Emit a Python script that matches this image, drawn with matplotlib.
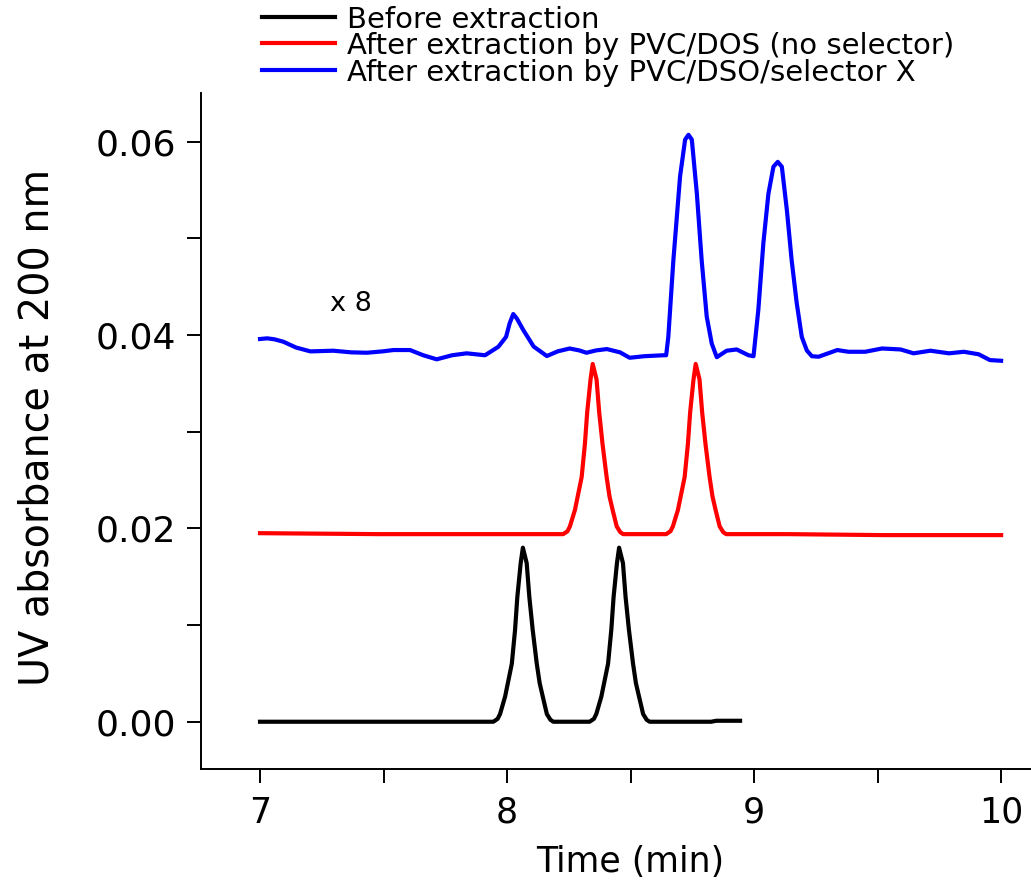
import matplotlib
matplotlib.use("Agg")
import matplotlib.pyplot as plt
from matplotlib.lines import Line2D

plt.rcParams["font.family"] = ["DejaVu Sans"]

# Before extraction (black)
before_x = [7.000, 7.068, 7.8745, 7.9445, 7.9619, 7.9717, 7.9921, 8.0193, 8.0324, 8.0416, 8.0552, 8.0640,
            8.0795, 8.0902, 8.1038, 8.1203, 8.1320, 8.1446, 8.1611, 8.1757, 8.1874, 8.2632,
            8.3341, 8.3516, 8.3613, 8.3817, 8.4089, 8.4220, 8.4313, 8.4449, 8.4536,
            8.4692, 8.4798, 8.4934, 8.5100, 8.5216, 8.5343, 8.5508, 8.5653, 8.5770, 8.8267, 8.8462, 8.9433]
before_y = [0.0000, 0.0000, 0.0000, 0.0000, 0.0003, 0.0008, 0.0026, 0.0060, 0.0095, 0.0129, 0.0164, 0.0180,
            0.0164, 0.0129, 0.0095, 0.0060, 0.0040, 0.0026, 0.0008, 0.0002, 0.0000, 0.0000,
            0.0000, 0.0003, 0.0008, 0.0026, 0.0060, 0.0095, 0.0129, 0.0164, 0.0180,
            0.0164, 0.0129, 0.0095, 0.0060, 0.0040, 0.0026, 0.0008, 0.0002, 0.0000, 0.0000, 0.0001, 0.0001]

# After extraction by PVC/DOS (red)
dos_x = [7.000, 7.4858, 7.9717, 8.2272, 8.2447, 8.2544, 8.2748, 8.3020, 8.3151, 8.3244, 8.3380, 8.3467,
         8.3623, 8.3730, 8.3866, 8.4031, 8.4147, 8.4274, 8.4439, 8.4585, 8.4701,
         8.5547, 8.6441, 8.6615, 8.6713, 8.6917, 8.7189, 8.7320, 8.7412, 8.7548, 8.7636,
         8.7791, 8.7898, 8.8034, 8.8199, 8.8316, 8.8442, 8.8607, 8.8753, 8.8870, 9.1377, 9.5263, 10.000]
dos_y = [0.0195, 0.0194, 0.0194, 0.0194, 0.0197, 0.0202, 0.0219, 0.0253, 0.0287, 0.0320, 0.0354, 0.0370,
         0.0354, 0.0320, 0.0287, 0.0253, 0.0233, 0.0219, 0.0202, 0.0196, 0.0194,
         0.0194, 0.0194, 0.0197, 0.0202, 0.0219, 0.0253, 0.0287, 0.0320, 0.0354, 0.0370,
         0.0354, 0.0320, 0.0287, 0.0253, 0.0233, 0.0219, 0.0202, 0.0196, 0.0194, 0.0194, 0.0193, 0.0193]

# After extraction by PVC/DSO/selector X (blue, x 8)
sel_x = [7.000, 7.0291, 7.0583, 7.0943, 7.1457, 7.2040, 7.2964, 7.3692, 7.4324, 7.4955, 7.5402, 7.6073,
         7.6607, 7.7152, 7.7773, 7.8366, 7.9109, 7.9649, 7.9960, 8.0105, 8.0251, 8.0397, 8.0659, 8.1077,
         8.1611, 8.2049, 8.2534, 8.2923, 8.3215, 8.3603, 8.4040, 8.4575, 8.4964, 8.5547, 8.6324, 8.6441,
         8.6528, 8.6732, 8.7004, 8.7208, 8.7344, 8.7480, 8.7684, 8.7879, 8.8083, 8.8287, 8.8491, 8.8889,
         8.9297, 8.9773, 8.9977, 9.0172, 9.0376, 9.0580, 9.0784, 9.0959, 9.1124, 9.1328, 9.1522, 9.1726,
         9.1931, 9.2135, 9.2339, 9.2615, 9.3368, 9.3822, 9.4498, 9.5178, 9.5931, 9.6457, 9.7138, 9.7891,
         9.8494, 9.9093, 9.9547, 10.000]
sel_y = [0.03958, 0.03965, 0.03955, 0.0393, 0.0387, 0.0383, 0.03837, 0.0382, 0.03816, 0.0383, 0.03844, 0.03844,
         0.0379, 0.03748, 0.0379, 0.0381, 0.0379, 0.03878, 0.0398, 0.0412, 0.04216, 0.0417, 0.0405, 0.0388,
         0.03782, 0.0383, 0.0386, 0.0384, 0.03816, 0.0384, 0.03854, 0.0382, 0.03764, 0.0378, 0.0379, 0.0379,
         0.0398, 0.0477, 0.0564, 0.0602, 0.0607, 0.0602, 0.0546, 0.0477, 0.0419, 0.0391, 0.0377, 0.03837,
         0.0385, 0.0379, 0.0378, 0.0426, 0.0495, 0.0546, 0.0574, 0.0579, 0.0574, 0.0529, 0.0477, 0.0433,
         0.0398, 0.0384, 0.0378, 0.03775, 0.03844, 0.03826, 0.03826, 0.0386, 0.0385, 0.0381, 0.03837, 0.0381,
         0.03826, 0.0380, 0.0374, 0.03733]

labels = ["Before extraction",
          "After extraction by PVC/DOS (no selector)",
          "After extraction by PVC/DSO/selector X"]
colors = ["black", "red", "blue"]

W, H = 1031, 886
fig = plt.figure(figsize=(W / 100, H / 100), dpi=100)
ax = fig.add_axes([0.1947, 0.1317, 0.8053, 0.7631])

ax.plot(before_x, before_y, color=colors[0], lw=3.0)
ax.plot(dos_x, dos_y, color=colors[1], lw=3.0)
ax.plot(sel_x, sel_y, color=colors[2], lw=3.0)

ax.text(7.283, 0.0432, "x 8", fontsize=19.5, va="center", ha="left")

ax.set_xlim(6.760, 10.121)
ax.set_ylim(-0.00492, 0.065)
ax.set_xticks([7, 8, 9, 10])
ax.set_xticks([7.5, 8.5, 9.5], minor=True)
ax.set_yticks([0.00, 0.02, 0.04, 0.06])
ax.set_yticks([0.01, 0.03, 0.05], minor=True)
ax.set_yticklabels(["0.00", "0.02", "0.04", "0.06"])

for s in ["top", "right"]:
    ax.spines[s].set_visible(False)
for s in ["left", "bottom"]:
    ax.spines[s].set_linewidth(1.4)

ax.tick_params(which="major", length=10, width=1.4)
ax.tick_params(which="minor", length=10, width=1.4)
ax.tick_params(axis="x", pad=9, labelsize=25)
ax.tick_params(axis="y", pad=8, labelsize=26)

ax.set_xlabel("Time (min)", fontsize=25)
ax.set_ylabel("UV absorbance at 200 nm", fontsize=28.5)
ax.xaxis.set_label_coords(0.517, -0.112)
ax.yaxis.set_label_coords(-0.173, 0.506)

# legend drawn by hand above the axes (row centres in pixels from the top)
rows = [17, 43, 70]
for lab, col, r in zip(labels, colors, rows):
    yf = 1 - r / H
    fig.add_artist(Line2D([262 / W, 335 / W], [yf, yf], color=col, lw=3.0))
    fig.text(347 / W, 1 - (r + 10.6) / H, lab, fontsize=21, va="baseline", ha="left")

fig.savefig("out.png", dpi=100)
